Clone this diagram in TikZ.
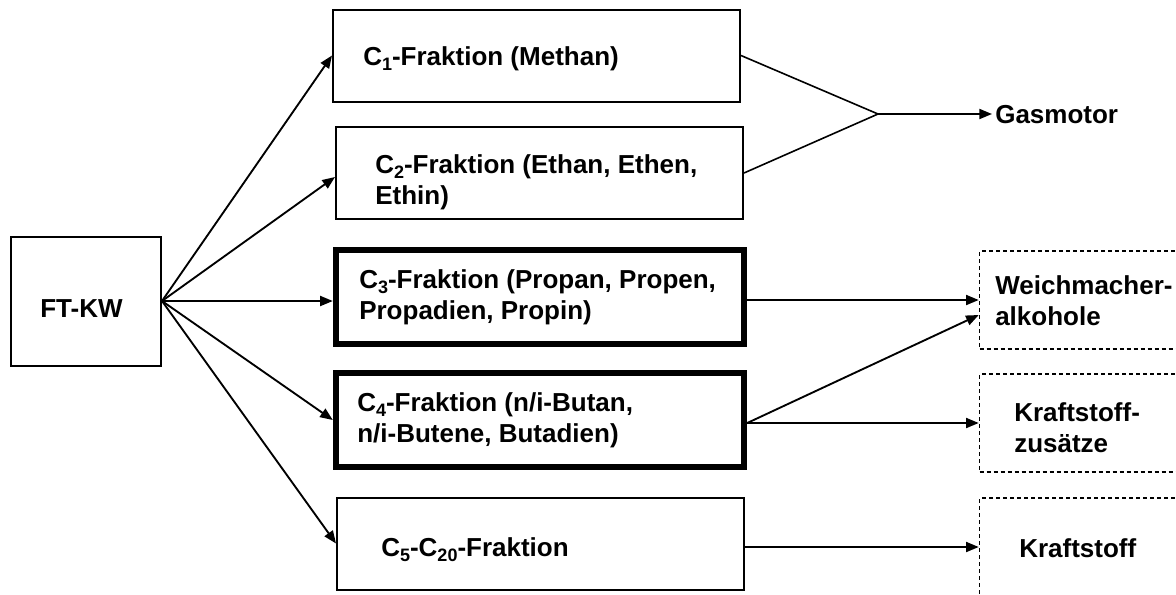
\documentclass[tikz,border=0pt]{standalone}
\usepackage{fontspec}
\setmainfont{Liberation Sans}
\usepackage{tikz}
\usetikzlibrary{arrows.meta,positioning,calc}
\definecolor{inkBlack}{RGB}{0, 0, 0}
\newcommand{\boxfont}{\fontsize{19.5pt}{23.25pt}\selectfont\bfseries}
\newcommand{\ksub}[1]{\raisebox{-0.22em}{\fontsize{13.5pt}{14pt}\selectfont #1}}

\begin{document}
\begin{tikzpicture}[x=0.75pt, y=-0.75pt,
        fraktion/.style={draw=inkBlack, line width=1.5pt, minimum width=305.25pt, minimum height=69pt, inner sep=0pt},
        fraktionbold/.style={fraktion, line width=4.8pt, minimum width=306pt, minimum height=70.5pt},
        produkt/.style={draw=inkBlack, line width=1.2pt, dash pattern=on 3pt off 2.25pt, minimum width=165pt, minimum height=73.5pt, inner sep=0pt},
        boxtext/.style={font=\boxfont, text=inkBlack, align=left, inner sep=0pt, anchor=north west},
        pfeil/.style={draw=inkBlack, line width=1.4pt, -{Triangle[length=9.5pt,width=7.5pt]}}]
                \useasboundingbox (0,0) rectangle (1176,594);

                \node[fraktion, minimum width=112.5pt, minimum height=96.75pt] (ftkw) at (86,301) {};
                \node[fraktion] (c1) at (536.5,55.5) {};
                \node[fraktion] (c2) at (539.5,173) {};
                \node[fraktionbold] (c3) at (540,297) {};
                \node[fraktionbold] (c4) at (540,420) {};
                \node[fraktion] (c5) at (540.5,543.5) {};

                \node[produkt] (weich) at (1089.5,300) {};
                \node[produkt] (zusatz) at (1089.5,423) {};
                \node[produkt] (kraft) at (1089.5,547) {};

                \node[boxtext] (ftkwtext) at (40,299) {FT-KW};
                \node[boxtext] (c1text) at (363,46) {C\ksub{1}-Fraktion (Methan)};
                \node[boxtext] (c2text) at (375,154) {C\ksub{2}-Fraktion (Ethan, Ethen,\\Ethin)};
                \node[boxtext] (c3text) at (359,269) {C\ksub{3}-Fraktion (Propan, Propen,\\Propadien, Propin)};
                \node[boxtext] (c4text) at (357,392) {C\ksub{4}-Fraktion (n/i-Butan,\\n/i-Butene, Butadien)};
                \node[boxtext] (c5text) at (381,537) {C\ksub{5}-C\ksub{20}-Fraktion};
                \node[boxtext] (weichtext) at (995,275) {Weichmacher-\\alkohole};
                \node[boxtext] (zusatztext) at (1014,402) {Kraftstoff-\\zusätze};
                \node[boxtext] (krafttext) at (1019,538) {Kraftstoff};
                \node[boxtext, anchor=west, inner xsep=2.25pt] (gas) at (992,115) {Gasmotor};

                \coordinate (gasjunc) at (878,114);
                \coordinate (c4out) at (zusatz.west -| c4.east);

                \foreach \ziel in {c1,c4,c5}
                    \draw[pfeil] (ftkw.east) -- (\ziel.west);
                \draw[pfeil] (ftkw.east) -- ([yshift=-3pt]c2.west);
                \draw[pfeil] (ftkw.east) -- (ftkw.east -| c3.west);

                \draw[draw=inkBlack, line width=1.2pt] (c1.east) -- (gasjunc) -- (c2.east);
                \draw[pfeil] (gasjunc) -- (gasjunc -| gas.west);

                \draw[pfeil] (weich.west -| c3.east) -- (weich.west);
                \draw[pfeil] (c4out) -- ([yshift=-11.25pt]weich.west);
                \draw[pfeil] (c4out) -- (zusatz.west);
                \draw[pfeil] (kraft.west -| c5.east) -- (kraft.west);
            \end{tikzpicture}
\end{document}
